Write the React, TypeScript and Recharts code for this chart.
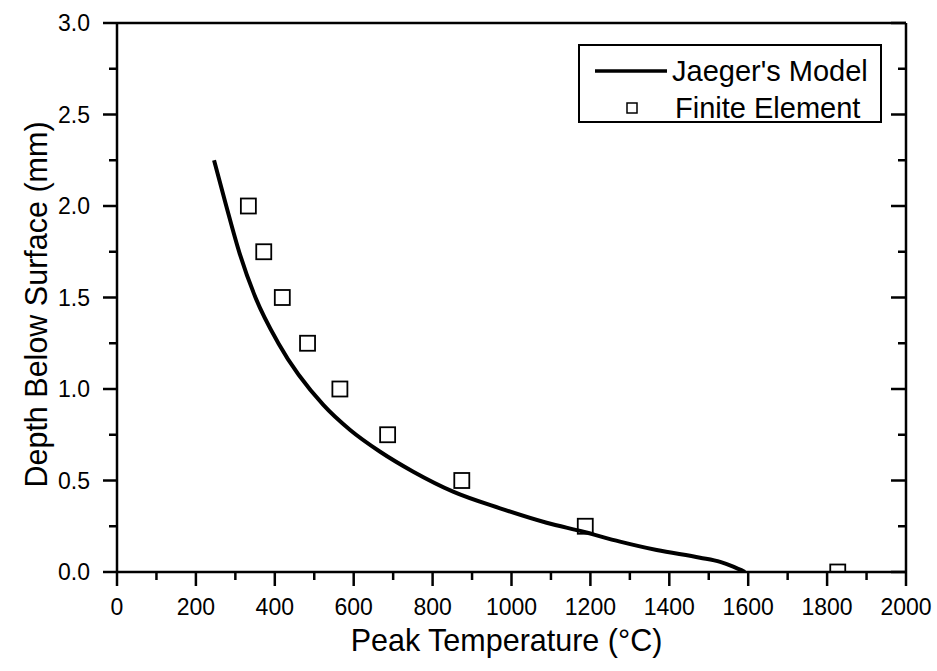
import React from "react";
import {
  ComposedChart,
  Line,
  Scatter,
  XAxis,
  YAxis,
  Legend,
  Label,
} from "recharts";

// Jaeger's model curve
const jaegerTemp = [246, 277, 311, 351, 409, 523, 591, 667, 751, 852, 971, 1089, 1182, 1275, 1368, 1478, 1529, 1562, 1592];
const jaegerDepth = [2.25, 2.0, 1.74, 1.5, 1.25, 0.913, 0.776, 0.657, 0.548, 0.439, 0.348, 0.269, 0.22, 0.166, 0.12, 0.078, 0.055, 0.029, 0.0];

// Finite element points
const feTemp = [333, 372, 419, 483, 565, 686, 874, 1187, 1827];
const feDepth = [2.0, 1.75, 1.5, 1.25, 1.0, 0.75, 0.5, 0.25, 0.0];

const xTicks = [0, 100, 200, 300, 400, 500, 600, 700, 800, 900, 1000, 1100, 1200, 1300, 1400, 1500, 1600, 1700, 1800, 1900, 2000];
const yTicks = [0, 0.25, 0.5, 0.75, 1.0, 1.25, 1.5, 1.75, 2.0, 2.25, 2.5, 2.75, 3.0];

const jaegerData = jaegerTemp.map((t, i) => ({ temp: t, depth: jaegerDepth[i] }));
const feData = feTemp.map((t, i) => ({ temp: t, depth: feDepth[i] }));

const FONT = "'Liberation Sans', Arial, sans-serif";
const AXIS = { stroke: "#000", strokeWidth: 2.5 };

const isMajorX = (v: number) => v % 200 === 0;
const isMajorY = (v: number) => Math.abs(v * 2 - Math.round(v * 2)) < 1e-6;

const BottomTick = (props: any) => {
  const { x, y, payload } = props;
  const major = isMajorX(payload.value);
  return (
    <g>
      <line x1={x} x2={x} y1={y} y2={y + (major ? 14 : 8)} stroke="#000" strokeWidth={2.5} />
      {major && (
        <text x={x} y={y + 43} textAnchor="middle" fontSize={23} fontFamily={FONT} fill="#000">
          {payload.value}
        </text>
      )}
    </g>
  );
};

const TopTick = (props: any) => {
  const { x, y, payload } = props;
  const major = isMajorX(payload.value);
  return <line x1={x} x2={x} y1={y} y2={y + (major ? 13 : 7)} stroke="#000" strokeWidth={2.5} />;
};

const LeftTick = (props: any) => {
  const { x, y, payload } = props;
  const major = isMajorY(payload.value);
  return (
    <g>
      <line x1={x} x2={x - (major ? 14 : 8)} y1={y} y2={y} stroke="#000" strokeWidth={2.5} />
      {major && (
        <text x={x - 27} y={y + 8} textAnchor="end" fontSize={23} fontFamily={FONT} fill="#000">
          {payload.value.toFixed(1)}
        </text>
      )}
    </g>
  );
};

const RightTick = (props: any) => {
  const { x, y, payload } = props;
  const major = isMajorY(payload.value);
  return <line x1={x} x2={x - (major ? 15 : 8)} y1={y} y2={y} stroke="#000" strokeWidth={2.5} />;
};

const Square = (props: any) => {
  const { cx, cy } = props;
  return <rect x={cx - 7.5} y={cy - 7.5} width={15} height={15} fill="none" stroke="#000" strokeWidth={1.8} />;
};

const renderLegend = () => (
  <svg width={304} height={79} style={{ display: "block" }}>
    <rect x={1} y={1} width={302} height={77} fill="#fff" stroke="#000" strokeWidth={2} />
    <line x1={17} x2={89} y1={27} y2={27} stroke="#000" strokeWidth={3.5} />
    <text x={94} y={37} fontSize={29} fontFamily={FONT} fill="#000">Jaeger's Model</text>
    <rect x={49} y={59} width={10} height={10} fill="none" stroke="#000" strokeWidth={1.5} />
    <text x={97} y={74} fontSize={29} fontFamily={FONT} fill="#000">Finite Element</text>
  </svg>
);

const YTitle = (props: any) => {
  const { viewBox } = props;
  const cy = viewBox.y + viewBox.height / 2 + 7;
  return (
    <text x={47} y={cy} transform={`rotate(-90, 47, ${cy})`} textAnchor="middle" fontSize={30.5} fontFamily={FONT} fill="#000">
      Depth Below Surface (mm)
    </text>
  );
};

export default function App() {
  return (
    <div style={{ position: "absolute", left: 0, top: 0, width: 937, height: 671, background: "#fff" }}>
      <ComposedChart width={937} height={671} margin={{ top: 0, right: 0, bottom: 0, left: 0 }}>
        <XAxis
          xAxisId={0}
          dataKey="temp"
          type="number"
          domain={[0, 2000]}
          ticks={xTicks}
          interval={0}
          allowDataOverflow
          height={99}
          tickSize={0}
          tickMargin={0}
          tickLine={false}
          axisLine={AXIS}
          tick={<BottomTick />}
        >
          <Label value="Peak Temperature (°C)" position="insideBottom" offset={20} dx={-5} fontSize={30.5} fontFamily={FONT} fill="#000" />
        </XAxis>
        <XAxis
          xAxisId="top"
          orientation="top"
          type="number"
          domain={[0, 2000]}
          ticks={xTicks}
          interval={0}
          allowDataOverflow
          height={23}
          tickSize={0}
          tickMargin={0}
          tickLine={false}
          axisLine={AXIS}
          tick={<TopTick />}
        />
        <YAxis
          yAxisId={0}
          type="number"
          domain={[0, 3]}
          ticks={yTicks}
          interval={0}
          allowDataOverflow
          width={117}
          tickSize={0}
          tickMargin={0}
          tickLine={false}
          axisLine={AXIS}
          tick={<LeftTick />}
        >
          <Label content={<YTitle />} />
        </YAxis>
        <YAxis
          yAxisId="right"
          orientation="right"
          type="number"
          domain={[0, 3]}
          ticks={yTicks}
          interval={0}
          allowDataOverflow
          width={31}
          tickSize={0}
          tickMargin={0}
          tickLine={false}
          axisLine={AXIS}
          tick={<RightTick />}
        />
        <Line
          data={jaegerData}
          dataKey="depth"
          type="monotone"
          stroke="#000"
          strokeWidth={4}
          dot={false}
          activeDot={false}
          isAnimationActive={false}
        />
        <Scatter data={feData} dataKey="depth" shape={<Square />} isAnimationActive={false} />
        <Legend
          layout="horizontal"
          verticalAlign="middle"
          align="center"
          content={renderLegend}
          wrapperStyle={{ left: 578, top: 44, width: 304, height: 79 }}
        />
      </ComposedChart>
    </div>
  );
}
